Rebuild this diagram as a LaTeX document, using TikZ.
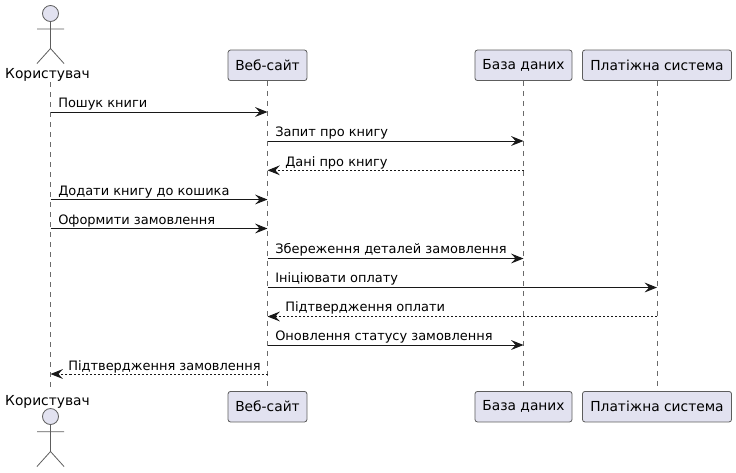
\documentclass[tikz,border=0pt]{standalone}
\usepackage{fontspec}
\setmainfont{DejaVu Sans}
\usetikzlibrary{arrows.meta,calc}
\definecolor{pfill}{HTML}{E2E2F0}
\definecolor{pline}{HTML}{181818}
\definecolor{lifeg}{HTML}{6A6A6A}
\pgfdeclarelayer{lifelayer}
\pgfsetlayers{lifelayer,main}
\tikzset{
  x=0.75pt,y=-0.75pt,
  pbox/.style={draw=pline!70,line width=0.6pt,fill=pfill,rounded corners=1.9pt,minimum height=22.9pt,inner sep=0pt,font=\fontsize{10.35pt}{12pt}\selectfont,anchor=center},
  alabel/.style={inner sep=0pt,font=\fontsize{10.35pt}{12pt}\selectfont,anchor=base,text=black},
  lifel/.style={draw=lifeg,line width=0.5pt,dash pattern=on 3.75pt off 3.75pt},
  msg/.style={draw=pline,line width=0.75pt,-{Stealth[length=9.3pt,width=7.4pt,inset=3.4pt]}},
  ret/.style={msg,dash pattern=on 1.5pt off 1.5pt},
  mtext/.style={inner sep=0pt,anchor=base west,text=black,font=\fontsize{9.72pt}{12pt}\selectfont},
  stick/.style={draw=pline!70,line width=0.6pt},
  head/.style={draw=pline!70,line width=0.6pt,fill=pfill,circle,minimum size=12pt,inner sep=0pt},
}
\begin{document}
\begin{tikzpicture}
\useasboundingbox (0,0) rectangle (736,472);
\node[alabel] (uL) at (47.5,78) {Користувач};
\node[alabel] (uLb) at (47.5,405) {Користувач};
\coordinate (uT) at (50.5,82);
\coordinate (uB) at (50.5,391);
\node[pbox,minimum width=59.2pt] (wT) at (267.5,65.3) {Веб-сайт};
\node[pbox,minimum width=59.2pt] (wB) at (267.5,406.7) {Веб-сайт};
\node[pbox,minimum width=72.8pt] (dT) at (523.5,65.3) {База даних};
\node[pbox,minimum width=72.8pt] (dB) at (523.5,406.7) {База даних};
\node[pbox,minimum width=111.8pt] (pT) at (657,65.3) {Платіжна система};
\node[pbox,minimum width=111.8pt] (pB) at (657,406.7) {Платіжна система};
\begin{pgfonlayer}{lifelayer}
\draw[lifel] (uT) -- (uB);
\draw[lifel] (wT.south) -- (wB.north);
\draw[lifel] (dT.south) -- (dB.north);
\draw[lifel] (pT.south) -- (pB.north);
\end{pgfonlayer}
% actors
\node[head] (h1) at (50.5,13.5) {};
\coordinate (b1) at (50.5,48.5);
\coordinate (a1l) at (37,29);
\coordinate (a1r) at (64,29);
\coordinate (l1l) at (37,63.5);
\coordinate (l1r) at (64,63.5);
\draw[stick] (h1) -- (b1) (a1l) -- (a1r) (l1l) -- (b1) -- (l1r);
\node[head] (h2) at (50.5,416.5) {};
\coordinate (b2) at (50.5,451.5);
\coordinate (a2l) at (37,431.7);
\coordinate (a2r) at (64,431.7);
\coordinate (l2l) at (37,466.5);
\coordinate (l2r) at (64,466.5);
\draw[stick] (h2) -- (b2) (a2l) -- (a2r) (l2l) -- (b2) -- (l2r);
% messages
\newcommand{\smsg}[5]{%
  \coordinate (#1s) at (#2 |- 0,#4);
  \coordinate (#1e) at (#3 |- 0,#4);
  \draw[#5] (#1s) -- (#1e);
}
\smsg{m1}{uT}{wT}{112}{msg}
\smsg{m2}{wT}{dT}{141}{msg}
\smsg{m3}{dT}{wT}{170.3}{ret}
\smsg{m4}{uT}{wT}{199.5}{msg}
\smsg{m5}{uT}{wT}{228.5}{msg}
\smsg{m6}{wT}{dT}{258.5}{msg}
\smsg{m7}{wT}{pT}{287.5}{msg}
\smsg{m8}{pT}{wT}{316.5}{ret}
\smsg{m9}{wT}{dT}{345}{msg}
\smsg{m10}{wT}{uT}{374}{ret}
\node[mtext] (t1) at (58,107) {Пошук книги};
\node[mtext] (t2) at (275,136) {Запит про книгу};
\node[mtext] (t3) at (285,166) {Дані про книгу};
\node[mtext] (t4) at (58,195) {Додати книгу до кошика};
\node[mtext] (t5) at (58,224) {Оформити замовлення};
\node[mtext] (t6) at (275,253) {Збереження деталей замовлення};
\node[mtext] (t7) at (275,282) {Ініціювати оплату};
\node[mtext] (t8) at (285,311) {Підтвердження оплати};
\node[mtext] (t9) at (275,340) {Оновлення статусу замовлення};
\node[mtext] (t10) at (68,370) {Підтвердження замовлення};
\end{tikzpicture}
\end{document}
